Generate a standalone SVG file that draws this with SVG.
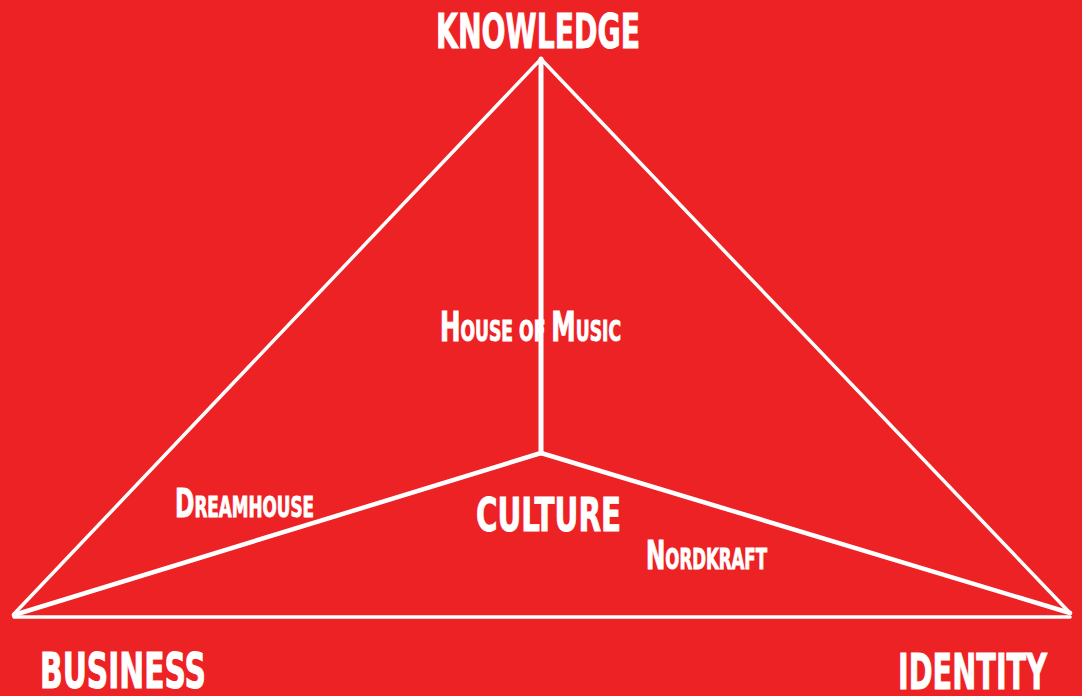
<svg xmlns="http://www.w3.org/2000/svg" width="1082" height="696" viewBox="0 0 1082 696">
<style>
.t{font-family:"DejaVu Sans Condensed","DejaVu Sans",sans-serif;font-weight:bold;fill:#fff;stroke:#fff;stroke-width:0.9}
.e{stroke:#fff;fill:none;stroke-linecap:round;stroke-linejoin:round}
</style>
<rect width="1082" height="696" fill="#ED2225"/>
<g id="connectors">
<line class="e" x1="541" y1="59" x2="14" y2="614" stroke-width="3.5"/>
<line class="e" x1="541" y1="59" x2="1070" y2="613" stroke-width="3.5"/>
<line class="e" x1="14" y1="617" x2="1070" y2="617" stroke-width="3.5"/>
<line class="e" x1="541" y1="59" x2="541" y2="453" stroke-width="5"/>
<line class="e" x1="541" y1="453" x2="14" y2="615" stroke-width="4.5"/>
<line class="e" x1="541" y1="453" x2="1070" y2="613" stroke-width="4.5"/>
</g>
<g id="knowledge"><text class="t" x="436" y="48" font-size="48" textLength="204" lengthAdjust="spacingAndGlyphs">KNOWLEDGE</text></g>
<g id="house-of-music"><text class="t" x="440" y="341" font-size="40" textLength="181" lengthAdjust="spacingAndGlyphs">H<tspan font-size="28">OUSE OF </tspan>M<tspan font-size="28">USIC</tspan></text></g>
<g id="dreamhouse"><text class="t" x="175" y="517" font-size="39" textLength="139" lengthAdjust="spacingAndGlyphs">D<tspan font-size="28">REAMHOUSE</tspan></text></g>
<g id="culture"><text class="t" x="476" y="531" font-size="47" textLength="145" lengthAdjust="spacingAndGlyphs">CULTURE</text></g>
<g id="nordkraft"><text class="t" x="646" y="569" font-size="39" textLength="121" lengthAdjust="spacingAndGlyphs">N<tspan font-size="28">ORDKRAFT</tspan></text></g>
<g id="business"><text class="t" x="40" y="688" font-size="49" textLength="166" lengthAdjust="spacingAndGlyphs">BUSINESS</text></g>
<g id="identity"><text class="t" x="898" y="689" font-size="50" textLength="149" lengthAdjust="spacingAndGlyphs">IDENTITY</text></g>
</svg>
